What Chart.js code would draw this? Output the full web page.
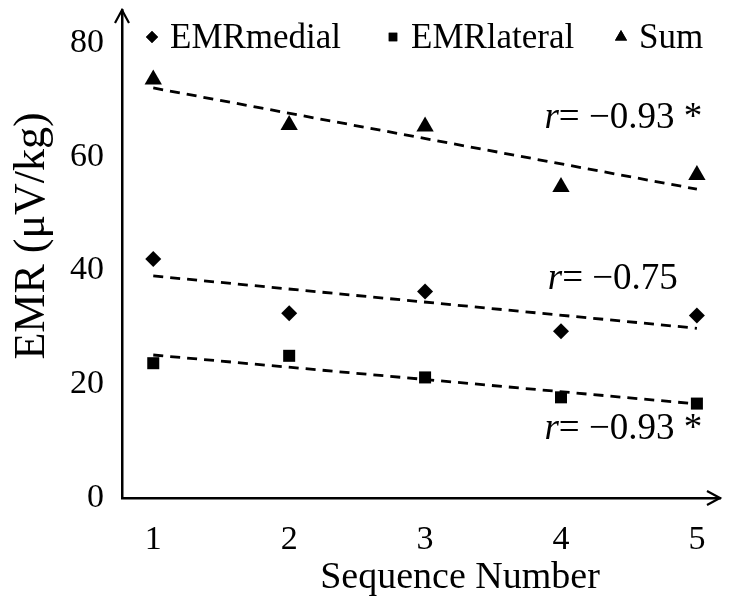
<!DOCTYPE html>
<html>
<head>
<meta charset="utf-8">
<script src="https://cdn.jsdelivr.net/npm/chart.js@4.4.1/dist/chart.umd.min.js"></script>
<style>
  html, body { margin: 0; background: #fff; }
  #wrap { width: 730px; height: 600px; }
</style>
</head>
<body>
<div id="wrap"><canvas id="emr"></canvas></div>
<script>
// EMR per sequence number with linear trend lines for each series.
const seqNumbers = [1, 2, 3, 4, 5];
const emrMedial = [42.0, 32.5, 36.3, 29.3, 32.1];
const emrLateral = [23.7, 25.0, 21.2, 17.7, 16.6];
const emrSum = [73.6, 65.6, 65.3, 54.7, 56.8];
const seriesNames = ['EMRmedial', 'EMRlateral', 'Sum'];
const rTexts = ['= \u22120.75', '= \u22120.93 *', '= \u22120.93 *'];
const yTicks = [0, 20, 40, 60, 80];
const yTitle = 'EMR (\u03bcV/kg)';
const xTitle = 'Sequence Number';

const SERIF = '"Liberation Serif", "Times New Roman", serif';
const TICK_SIZE = 34;
const NOTE_SIZE = 37;
const LEGEND_SIZE = 35;

function pts(ys) {
  return seqNumbers.map((x, i) => ({ x, y: ys[i] }));
}

// least squares line, evaluated at the first and last sequence number
function fitLine(xs, ys) {
  const n = xs.length;
  const mx = xs.reduce((a, b) => a + b, 0) / n;
  const my = ys.reduce((a, b) => a + b, 0) / n;
  let sxy = 0, sxx = 0;
  xs.forEach((x, i) => { sxy += (x - mx) * (ys[i] - my); sxx += (x - mx) * (x - mx); });
  const b = sxy / sxx;
  const a = my - b * mx;
  return [xs[0], xs[n - 1]].map((x) => ({ x, y: a + b * x }));
}

function markerSet(label, ys, style, r) {
  return {
    type: 'scatter',
    label,
    data: pts(ys),
    pointStyle: style,
    pointRadius: r,
    pointHoverRadius: r,
    backgroundColor: '#000',
    borderColor: '#000',
    borderWidth: 0,
  };
}

function trendSet(ys) {
  return {
    type: 'line',
    label: '',
    data: fitLine(seqNumbers, ys),
    borderColor: '#000',
    borderWidth: 2.8,
    borderDash: [10, 7],
    pointRadius: 0,
    fill: false,
  };
}

// arrow heads on the ends of both axes
const axisArrows = {
  id: 'axisArrows',
  afterDraw(chart) {
    const { ctx, chartArea: a } = chart;
    ctx.save();
    ctx.strokeStyle = '#000';
    ctx.lineWidth = 2.2;
    ctx.beginPath();
    ctx.moveTo(a.left - 7, a.top + 13);
    ctx.lineTo(a.left, a.top);
    ctx.lineTo(a.left + 7, a.top + 13);
    ctx.moveTo(a.right - 13, a.bottom - 7);
    ctx.lineTo(a.right, a.bottom);
    ctx.lineTo(a.right - 13, a.bottom + 7);
    ctx.stroke();
    ctx.restore();
  },
};

// axis titles, placed by hand
const axisTitles = {
  id: 'axisTitles',
  afterDraw(chart) {
    const { ctx } = chart;
    ctx.save();
    ctx.fillStyle = '#000';
    ctx.textAlign = 'center';
    ctx.textBaseline = 'middle';
    ctx.font = `38px ${SERIF}`;
    ctx.fillText(xTitle, 460, 578);
    ctx.translate(32, 236);
    ctx.rotate(-Math.PI / 2);
    ctx.font = `44px ${SERIF}`;
    ctx.fillText(yTitle, 0, 0);
    ctx.restore();
  },
};

// legend row drawn inside the plot area
const inlineLegend = {
  id: 'inlineLegend',
  afterDraw(chart) {
    const { ctx } = chart;
    const slots = [152, 393, 621];
    const sizes = [6, 6, 7];
    ctx.save();
    ctx.font = `${LEGEND_SIZE}px ${SERIF}`;
    ctx.fillStyle = '#000';
    ctx.textBaseline = 'middle';
    [0, 2, 4].forEach((dsIndex, k) => {
      const ds = chart.data.datasets[dsIndex];
      Chart.helpers.drawPoint(ctx, {
        pointStyle: ds.pointStyle, radius: sizes[k], rotation: 0, borderWidth: 0,
      }, slots[k], 37);
      ctx.fill();
      ctx.fillText(ds.label, slots[k] + 18, 39);
    });
    ctx.restore();
  },
};

// correlation coefficients next to each trend line
const rNotes = {
  id: 'rNotes',
  afterDraw(chart) {
    const { ctx, scales } = chart;
    const spots = [[4.86, 38.5], [5.04, 12.0], [5.04, 66.8]];
    ctx.save();
    ctx.fillStyle = '#000';
    ctx.textBaseline = 'middle';
    rTexts.forEach((txt, i) => {
      const right = scales.x.getPixelForValue(spots[i][0]);
      const y = scales.y.getPixelForValue(spots[i][1]);
      ctx.font = `${NOTE_SIZE}px ${SERIF}`;
      const w = ctx.measureText(txt).width;
      ctx.textAlign = 'left';
      ctx.fillText(txt, right - w, y);
      ctx.font = `italic ${NOTE_SIZE}px ${SERIF}`;
      ctx.textAlign = 'right';
      ctx.fillText('r', right - w, y);
    });
    ctx.restore();
  },
};

new Chart(document.getElementById('emr'), {
  data: {
    datasets: [
      markerSet(seriesNames[0], emrMedial, 'rectRot', 8),
      trendSet(emrMedial),
      markerSet(seriesNames[1], emrLateral, 'rect', 8.5),
      trendSet(emrLateral),
      markerSet(seriesNames[2], emrSum, 'triangle', 10),
      trendSet(emrSum),
    ],
  },
  options: {
    responsive: true,
    maintainAspectRatio: false,
    animation: false,
    layout: { padding: { top: 0, right: 5 } },
    plugins: { legend: { display: false }, tooltip: { enabled: false } },
    scales: {
      x: {
        type: 'linear',
        min: 0.77,
        max: 5.17,
        afterBuildTicks: (s) => { s.ticks = seqNumbers.map((v) => ({ value: v })); },
        afterFit: (s) => { s.height = 102; s.paddingLeft = 0; s.paddingRight = 0; },
        grid: { display: false },
        border: { color: '#000', width: 2.5 },
        ticks: { color: '#000', padding: 14, font: { family: SERIF, size: TICK_SIZE } },
      },
      y: {
        min: 0,
        max: 85.8,
        afterBuildTicks: (s) => { s.ticks = yTicks.map((v) => ({ value: v })); },
        afterFit: (s) => { s.width = 122; s.paddingTop = 0; s.paddingBottom = 0; },
        grid: { display: false },
        border: { color: '#000', width: 2.5 },
        ticks: { color: '#000', padding: 10, font: { family: SERIF, size: TICK_SIZE } },
      },
    },
  },
  plugins: [axisArrows, axisTitles, inlineLegend, rNotes],
});
</script>
</body>
</html>
